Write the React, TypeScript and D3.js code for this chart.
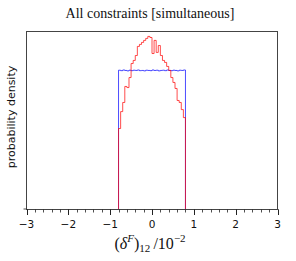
import React, { useRef, useEffect } from 'react';
import * as d3 from 'd3';

// histogram bins over [-0.8, 0.8], width 0.05 (units of 10^-2)
const binStart = -0.8;
const binWidth = 0.05;
const redDensity = [
  0.364, 0.44, 0.481, 0.553, 0.548, 0.593, 0.656, 0.67, 0.692, 0.733, 0.742,
  0.751, 0.76, 0.769, 0.778, 0.773, 0.701, 0.76, 0.706, 0.737, 0.692, 0.67,
  0.661, 0.643, 0.625, 0.593, 0.571, 0.544, 0.49, 0.481, 0.449, 0.413,
];
const blueDensity = [
  0.626, 0.624, 0.627, 0.625, 0.623, 0.626, 0.624, 0.626, 0.625, 0.627, 0.624,
  0.625, 0.623, 0.626, 0.625, 0.624, 0.627, 0.625, 0.626, 0.623, 0.625, 0.626,
  0.624, 0.627, 0.625, 0.624, 0.626, 0.625, 0.623, 0.626, 0.625, 0.627,
];
const xTicks = [-3, -2, -1, 0, 1, 2, 3];
const title = 'All constraints [simultaneous]';

function stepPath(values: number[], x: d3.ScaleLinear<number, number>, y: d3.ScaleLinear<number, number>) {
  const pts: [number, number][] = [[x(binStart), y(0)]];
  values.forEach((v, i) => {
    pts.push([x(binStart + i * binWidth), y(v)]);
    pts.push([x(binStart + (i + 1) * binWidth), y(v)]);
  });
  pts.push([x(binStart + values.length * binWidth), y(0)]);
  return d3.line()(pts) as string;
}

export default function App() {
  const svgRef = useRef<SVGSVGElement>(null);

  useEffect(() => {
    const svg = d3.select(svgRef.current);
    svg.selectAll('*').remove();

    const left = 26.5, right = 277.5, top = 31.5, bottom = 209.5;
    const x = d3.scaleLinear().domain([-3, 3]).range([left, right]);
    const y = d3.scaleLinear().domain([0, 0.8]).range([bottom, top]);

    svg.append('path')
      .attr('d', stepPath(blueDensity, x, y))
      .attr('fill', 'none')
      .attr('stroke', 'blue')
      .attr('stroke-opacity', 0.7)
      .attr('stroke-width', 1);

    svg.append('path')
      .attr('d', stepPath(redDensity, x, y))
      .attr('fill', 'none')
      .attr('stroke', 'red')
      .attr('stroke-opacity', 0.7)
      .attr('stroke-width', 1);

    // frame
    svg.append('rect')
      .attr('x', left).attr('y', top)
      .attr('width', right - left).attr('height', bottom - top)
      .attr('fill', 'none').attr('stroke', '#444').attr('stroke-width', 1);

    // x ticks
    const minor = d3.range(-3, 3.0001, 0.2);
    svg.selectAll('.minor').data(minor).enter().append('line')
      .attr('x1', d => Math.round(x(d)) + 0.5).attr('x2', d => Math.round(x(d)) + 0.5)
      .attr('y1', bottom).attr('y2', bottom + 3)
      .attr('stroke', '#222').attr('stroke-width', 0.8);
    svg.selectAll('.major').data(xTicks).enter().append('line')
      .attr('x1', d => Math.round(x(d)) + 0.5).attr('x2', d => Math.round(x(d)) + 0.5)
      .attr('y1', bottom).attr('y2', bottom + 5.5)
      .attr('stroke', '#222').attr('stroke-width', 1);
    svg.selectAll('.tl').data(xTicks).enter().append('text')
      .attr('x', d => x(d)).attr('y', 228)
      .attr('text-anchor', 'middle')
      .attr('font-family', 'DejaVu Sans')
      .attr('font-size', 10.5)
      .attr('fill', '#111')
      .text(d => (d < 0 ? '\u2212' + Math.abs(d) : String(d)));

    // y tick at 0
    svg.append('line')
      .attr('x1', left - 3).attr('x2', left)
      .attr('y1', y(0) - 0.5).attr('y2', y(0) - 0.5)
      .attr('stroke', '#222').attr('stroke-width', 0.8);

    svg.append('text')
      .attr('x', 150).attr('y', 18)
      .attr('text-anchor', 'middle')
      .attr('font-family', 'Liberation Serif')
      .attr('font-size', 14)
      .attr('fill', '#111')
      .text(title);

    svg.append('text')
      .attr('transform', 'translate(15,117) rotate(-90)')
      .attr('text-anchor', 'middle')
      .attr('font-family', 'DejaVu Sans')
      .attr('font-size', 11)
      .attr('fill', '#111')
      .text('probability density');

    const xl = svg.append('text')
      .attr('x', 150).attr('y', 249)
      .attr('text-anchor', 'middle')
      .attr('font-family', 'Liberation Serif')
      .attr('font-size', 16)
      .attr('fill', '#111');
    xl.append('tspan').text('(');
    xl.append('tspan').attr('font-style', 'italic').text('\u03b4');
    xl.append('tspan').attr('font-style', 'italic').attr('font-size', 11).attr('dy', -7).text('F');
    xl.append('tspan').attr('dy', 7).text(')');
    xl.append('tspan').attr('font-size', 11).attr('dy', 3).text('12');
    xl.append('tspan').attr('dy', -3).text('\u2009/10');
    xl.append('tspan').attr('font-size', 11).attr('dy', -7).text('\u22122');
  }, []);

  return (
    <svg
      ref={svgRef}
      width={296}
      height={261}
      style={{ position: 'absolute', left: 0, top: 0, background: '#fff' }}
    />
  );
}
